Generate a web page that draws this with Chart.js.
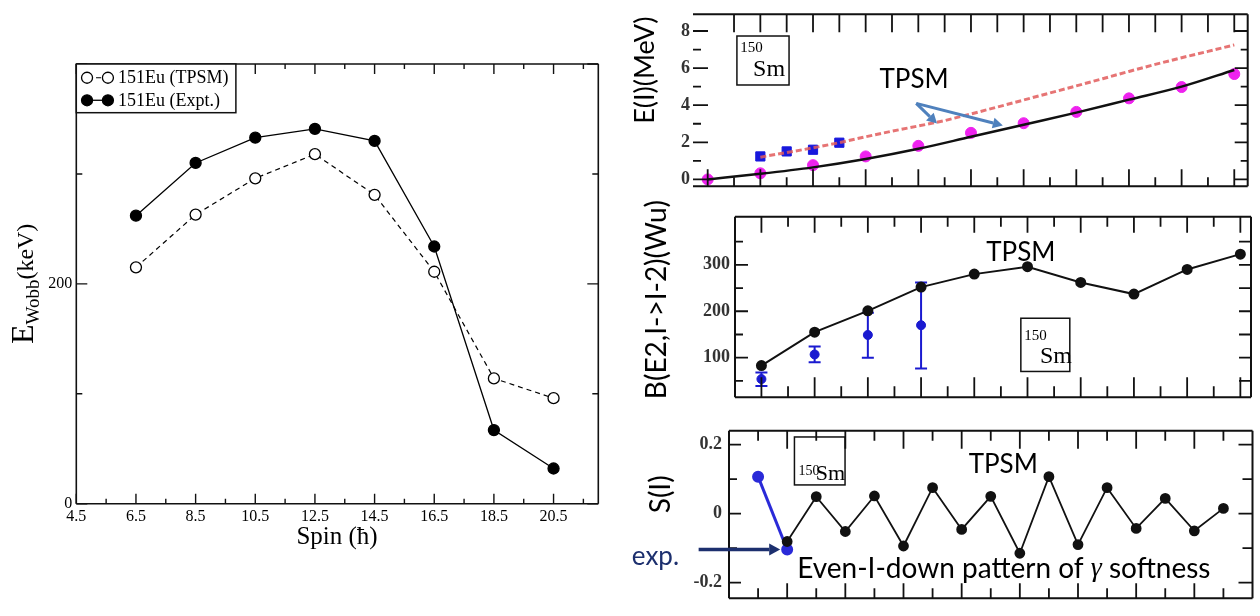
<!DOCTYPE html>
<html>
<head>
<meta charset="utf-8">
<script src="https://cdn.jsdelivr.net/npm/chart.js@4.4.1/dist/chart.umd.min.js"></script>
<style>
  html, body { margin: 0; padding: 0; background: #fff; }
  #wrap { position: relative; width: 1260px; height: 616px; overflow: hidden; }
  canvas { position: absolute; }
</style>
</head>
<body>
<div id="wrap">
  <canvas id="wobble" width="620" height="616" style="left:0;top:0"></canvas>
  <canvas id="energy" width="630" height="200" style="left:630px;top:0"></canvas>
  <canvas id="be2" width="630" height="213" style="left:630px;top:200px"></canvas>
  <canvas id="stagger" width="630" height="203" style="left:630px;top:413px"></canvas>
</div>
<script>
// ---- left panel: wobbling energy of 151Eu
const spin151 = [6.5, 8.5, 10.5, 12.5, 14.5, 16.5, 18.5, 20.5];
const wobbTPSM = [215, 263, 296, 318, 281, 211, 114, 96];
const wobbExpt = [262, 310, 333, 341, 330, 234, 67, 32];
const spinTicks = [4.5, 6.5, 8.5, 10.5, 12.5, 14.5, 16.5, 18.5, 20.5];
const spinMinor = [5.5, 7.5, 9.5, 11.5, 13.5, 15.5, 17.5, 19.5, 21.5];
const wobbTicks = [0, 200];
const wobbMajor = [0, 200, 400];
const wobbMinor = [100, 300];

// ---- 150Sm: yrast and gamma band energies (MeV)
const yrastSpin = [0, 2, 4, 6, 8, 10, 12, 14, 16, 18, 20];
const yrastExp = [0, 0.33, 0.77, 1.24, 1.81, 2.51, 3.03, 3.64, 4.37, 4.98, 5.68];
const yrastTPSM = [0, 0.3, 0.65, 1.1, 1.65, 2.3, 2.95, 3.6, 4.3, 5.0, 5.9];
const gammaSpinExp = [2, 3, 4, 5];
const gammaExp = [1.24, 1.51, 1.6, 1.98];
const gammaSpin = [2, 3, 4, 5, 6, 7, 8, 9, 10, 11, 12, 13, 14, 15, 16, 17, 18, 19, 20];
const gammaTPSM = [1.2, 1.45, 1.7, 1.98, 2.3, 2.6, 2.88, 3.17, 3.53, 3.9, 4.28, 4.66, 5.04, 5.43, 5.82, 6.2, 6.56, 6.9, 7.25];
const energyTicks = [0, 2, 4, 6, 8];
const energyMinor = [1, 3, 5, 7];
const evenSpin = [0, 2, 4, 6, 8, 10, 12, 14, 16, 18, 20];
const oddSpin = [1, 3, 5, 7, 9, 11, 13, 15, 17, 19];

// ---- 150Sm: B(E2, I->I-2) in W.u.
const be2Spin = [2, 4, 6, 8, 10, 12, 14, 16, 18, 20];
const be2TPSM = [83, 155, 201, 252, 280, 296, 262, 237, 290, 323];
const be2SpinExp = [2, 4, 6, 8];
const be2Exp = [54, 107, 149, 170];
const be2Lo = [39, 90, 100, 77];
const be2Hi = [68, 124, 197, 262];
const be2Ticks = [100, 200, 300];
const be2Minor = [50, 150, 250, 350];

// ---- 150Sm: staggering S(I)
const sSpin = [4, 5, 6, 7, 8, 9, 10, 11, 12, 13, 14, 15, 16, 17, 18, 19];
const sTPSM = [-0.081, 0.049, -0.052, 0.051, -0.094, 0.075, -0.046, 0.05, -0.115, 0.107, -0.09, 0.075, -0.043, 0.044, -0.05, 0.015];
const sSpinExp = [3, 4];
const sExp = [0.107, -0.104];
const sTicks = [-0.2, 0, 0.2];
const sMinor = [-0.1, 0.1];

const serif = '"Liberation Serif", "Times New Roman", serif';
const sans = 'Lato, "Liberation Sans", sans-serif';

const pts = (xs, ys) => xs.map((x, i) => ({ x: x, y: ys[i] }));
const part = (t, font, color, dy) => ({ t: t, font: font, color: color || '#000', dy: dy || 0 });

function drawArrow(ctx, x1, y1, x2, y2, color, w, head) {
  const ang = Math.atan2(y2 - y1, x2 - x1);
  const bx = x2 - head * Math.cos(ang), by = y2 - head * Math.sin(ang);
  ctx.strokeStyle = color; ctx.fillStyle = color; ctx.lineWidth = w;
  ctx.setLineDash([]);
  ctx.beginPath(); ctx.moveTo(x1, y1); ctx.lineTo(bx, by); ctx.stroke();
  ctx.beginPath();
  ctx.moveTo(x2, y2);
  ctx.lineTo(bx + head * 0.55 * Math.sin(ang), by - head * 0.55 * Math.cos(ang));
  ctx.lineTo(bx - head * 0.55 * Math.sin(ang), by + head * 0.55 * Math.cos(ang));
  ctx.closePath(); ctx.fill();
}

// frame, tick marks, labels, boxes and arrows for one panel
function decor(spec) {
  return {
    id: 'decor',
    beforeDatasetsDraw(chart) {
      const ctx = chart.ctx, sx = chart.scales.x, sy = chart.scales.y;
      ctx.save();
      (spec.errorBars || []).forEach(e => {
        ctx.strokeStyle = e.color; ctx.lineWidth = e.width;
        ctx.beginPath();
        e.x.forEach((xv, i) => {
          const x = sx.getPixelForValue(xv), y1 = sy.getPixelForValue(e.lo[i]), y2 = sy.getPixelForValue(e.hi[i]);
          ctx.moveTo(x, y1); ctx.lineTo(x, y2);
          ctx.moveTo(x - e.cap, y1); ctx.lineTo(x + e.cap, y1);
          ctx.moveTo(x - e.cap, y2); ctx.lineTo(x + e.cap, y2);
        });
        ctx.stroke();
      });
      ctx.restore();
    },
    afterDatasetsDraw(chart) {
      const ctx = chart.ctx, a = chart.chartArea;
      const sx = chart.scales.x, sy = chart.scales.y;
      const X = v => sx.getPixelForValue(v), Y = v => sy.getPixelForValue(v);
      ctx.save();
      ctx.strokeStyle = spec.ink || '#111';
      ctx.lineWidth = spec.frameWidth || 1.5;
      ctx.lineCap = 'butt';
      const sides = spec.sides || ['top', 'right', 'bottom', 'left'];
      ctx.beginPath();
      if (sides.includes('top')) { ctx.moveTo(a.left, a.top); ctx.lineTo(a.right, a.top); }
      if (sides.includes('right')) { ctx.moveTo(a.right, a.top); ctx.lineTo(a.right, a.bottom); }
      if (sides.includes('bottom')) { ctx.moveTo(a.left, a.bottom); ctx.lineTo(a.right, a.bottom); }
      if (sides.includes('left')) { ctx.moveTo(a.left, a.top); ctx.lineTo(a.left, a.bottom); }
      ctx.stroke();

      ctx.lineWidth = spec.tickWidth || 1.5;
      (spec.ticks || []).forEach(g => {
        ctx.beginPath();
        g.values.forEach(v => {
          if (g.at === 'bottom') { const p = X(v); ctx.moveTo(p, a.bottom); ctx.lineTo(p, a.bottom - g.len); }
          if (g.at === 'top') { const p = X(v); ctx.moveTo(p, a.top); ctx.lineTo(p, a.top + g.len); }
          if (g.at === 'left') { const p = Y(v); ctx.moveTo(a.left, p); ctx.lineTo(a.left + g.len, p); }
          if (g.at === 'right') { const p = Y(v); ctx.moveTo(a.right, p); ctx.lineTo(a.right - g.len, p); }
        });
        ctx.stroke();
      });

      (spec.boxes || []).forEach(b => {
        ctx.lineWidth = 1.5; ctx.strokeStyle = '#111';
        ctx.strokeRect(X(b[0]), Y(b[1]), X(b[2]) - X(b[0]), Y(b[3]) - Y(b[1]));
      });

      (spec.arrows || []).forEach(r => {
        drawArrow(ctx, X(r.x1), Y(r.y1), X(r.x2), Y(r.y2), r.color, r.width, r.head);
      });

      if (spec.legend) {
        const L = spec.legend;
        const x1 = X(L.box[0]), y1 = Y(L.box[1]), x2 = X(L.box[2]), y2 = Y(L.box[3]);
        ctx.fillStyle = '#fff'; ctx.fillRect(x1, y1, x2 - x1, y2 - y1);
        ctx.lineWidth = 1.5; ctx.strokeStyle = '#111'; ctx.setLineDash([]);
        ctx.strokeRect(x1, y1, x2 - x1, y2 - y1);
        L.rows.forEach(row => {
          const ds = chart.data.datasets[row.ds];
          const y = Y(row.y), m1 = X(row.m1), m2 = X(row.m2), r = ds.pointRadius;
          ctx.strokeStyle = '#000'; ctx.lineWidth = ds.borderWidth;
          ctx.setLineDash(ds.borderDash || []);
          ctx.beginPath(); ctx.moveTo(m1, y); ctx.lineTo(m2, y); ctx.stroke();
          ctx.setLineDash([]);
          [m1, m2].forEach(m => {
            ctx.beginPath(); ctx.arc(m, y, r, 0, Math.PI * 2);
            ctx.fillStyle = ds.pointBackgroundColor; ctx.fill();
            ctx.lineWidth = ds.pointBorderWidth; ctx.stroke();
          });
          ctx.fillStyle = '#000'; ctx.font = L.font;
          ctx.textAlign = 'left'; ctx.textBaseline = 'middle';
          ctx.fillText(ds.label, X(row.tx), y + 1);
        });
      }

      (spec.texts || []).forEach(tx => {
        ctx.save();
        ctx.translate(X(tx.x), Y(tx.y));
        if (tx.rotate) ctx.rotate(tx.rotate * Math.PI / 180);
        ctx.textBaseline = tx.baseline || 'middle';
        ctx.textAlign = 'left';
        let total = 0;
        tx.parts.forEach(p => { ctx.font = p.font; total += ctx.measureText(p.t).width; });
        let cx = tx.align === 'left' ? 0 : -total / 2;
        tx.parts.forEach(p => {
          ctx.font = p.font; ctx.fillStyle = p.color;
          ctx.fillText(p.t, cx, p.dy);
          cx += ctx.measureText(p.t).width;
        });
        ctx.restore();
      });
      ctx.restore();
    }
  };
}

function linear(min, max, extra) {
  return Object.assign({
    type: 'linear', min: min, max: max,
    grid: { display: false, drawTicks: false },
    border: { display: false }
  }, extra);
}

function fixedTicks(values) {
  return s => { s.ticks = values.map(v => ({ value: v })); };
}

const baseOptions = (layout, scales) => ({
  responsive: false,
  animation: false,
  layout: { padding: layout },
  plugins: { legend: { display: false }, tooltip: { enabled: false } },
  scales: scales
});

// ---------------- left chart
new Chart(document.getElementById('wobble'), {
  type: 'line',
  data: {
    datasets: [
      {
        label: '151Eu (TPSM)', data: pts(spin151, wobbTPSM),
        borderColor: '#000', borderWidth: 1.2, borderDash: [5, 4],
        pointRadius: 5.5, pointBackgroundColor: '#fff', pointBorderColor: '#000', pointBorderWidth: 1.3,
        clip: false
      },
      {
        label: '151Eu (Expt.)', data: pts(spin151, wobbExpt),
        borderColor: '#000', borderWidth: 1.3,
        pointRadius: 5.5, pointBackgroundColor: '#000', pointBorderColor: '#000', pointBorderWidth: 1.3,
        clip: false
      }
    ]
  },
  options: baseOptions({ left: 0, top: 64, right: 21.7, bottom: 0 }, {
    x: linear(4.5, 22, {
      afterBuildTicks: fixedTicks(spinTicks),
      afterFit: s => { s.height = 112.3; },
      ticks: { font: { family: serif, size: 16 }, color: '#000', padding: 3, autoSkip: false, maxRotation: 0 }
    }),
    y: linear(0, 400, {
      afterBuildTicks: fixedTicks(wobbTicks),
      afterFit: s => { s.width = 76.3; },
      ticks: { font: { family: serif, size: 16 }, color: '#000', padding: 4 }
    })
  }),
  plugins: [decor({
    frameWidth: 1.6, tickWidth: 1.4,
    ticks: [
      { at: 'bottom', values: spinTicks, len: 10 }, { at: 'bottom', values: spinMinor, len: 5 },
      { at: 'top', values: spinTicks, len: 10 }, { at: 'top', values: spinMinor, len: 5 },
      { at: 'left', values: wobbMajor, len: 11 }, { at: 'left', values: wobbMinor, len: 6 },
      { at: 'right', values: wobbMajor, len: 11 }, { at: 'right', values: wobbMinor, len: 6 }
    ],
    legend: {
      box: [4.5, 400, 9.85, 355.7], font: '18px ' + serif,
      rows: [{ ds: 0, y: 387.5, m1: 4.86, m2: 5.56, tx: 5.9 }, { ds: 1, y: 367, m1: 4.86, m2: 5.56, tx: 5.9 }]
    },
    texts: [
      { x: 13.24, y: -30.7, parts: [part('Spin (\u0127)', '25px ' + serif)] },
      {
        x: 3.05, y: 200, rotate: -90, baseline: 'alphabetic',
        parts: [part('E', '32px ' + serif), part('Wobb', '19px ' + serif, '#000', 6), part('(keV)', '24px ' + serif)]
      }
    ]
  })]
});

// ---------------- top right: E(I)
new Chart(document.getElementById('energy'), {
  type: 'line',
  data: {
    datasets: [
      {
        label: 'TPSM yrast', data: pts(yrastSpin, yrastTPSM),
        borderColor: '#111', borderWidth: 2.5, pointRadius: 0, cubicInterpolationMode: 'monotone', clip: false
      },
      {
        label: 'TPSM gamma', data: pts(gammaSpin, gammaTPSM),
        borderColor: 'rgba(226, 92, 92, 0.85)', borderWidth: 3, borderDash: [6, 3], pointRadius: 0, clip: false
      },
      {
        label: 'Expt yrast', data: pts(yrastSpin, yrastExp), showLine: false,
        pointRadius: 5.5, pointBackgroundColor: '#ee22ee', pointBorderColor: '#ee22ee', clip: false
      },
      {
        label: 'Expt gamma', data: pts(gammaSpinExp, gammaExp), showLine: false, pointStyle: 'rect',
        pointRadius: 6.5, pointBackgroundColor: '#1818dd', pointBorderColor: '#1818dd', clip: false
      }
    ]
  },
  options: baseOptions({ left: 0, top: 14.3, right: 12.3, bottom: 8.3 }, {
    x: linear(-0.558, 20.51, { display: false }),
    y: linear(-0.365, 8.9, {
      afterBuildTicks: fixedTicks(energyTicks),
      afterFit: s => { s.width = 63; },
      ticks: { font: { family: serif, size: 18, weight: 'bold' }, color: '#333', padding: 3 }
    })
  }),
  plugins: [decor({
    frameWidth: 2, tickWidth: 1.8, sides: ['top', 'right', 'bottom'],
    ticks: [
      { at: 'bottom', values: evenSpin, len: 17 }, { at: 'bottom', values: oddSpin, len: 9 },
      { at: 'top', values: evenSpin.slice(1), len: 18 }, { at: 'top', values: oddSpin, len: 18 },
      { at: 'left', values: energyTicks, len: 15 }, { at: 'left', values: energyMinor, len: 8 },
      { at: 'right', values: energyTicks, len: 13 }, { at: 'right', values: energyMinor, len: 7 }
    ],
    boxes: [[1.11, 7.73, 3.09, 5.09]],
    arrows: [
      { x1: 7.92, y1: 4.1, x2: 8.71, y2: 3.01, color: '#4f81bd', width: 3, head: 10 },
      { x1: 7.92, y1: 4.1, x2: 11.21, y2: 2.91, color: '#4f81bd', width: 3, head: 10 }
    ],
    texts: [
      { x: 1.66, y: 7.08, parts: [part('150', '15px ' + serif)] },
      { x: 2.33, y: 5.94, parts: [part('Sm', '24px ' + serif)] },
      { x: 7.84, y: 5.38, parts: [part('TPSM', '26px ' + sans)] },
      { x: -2.38, y: 5.89, rotate: -90, parts: [part('E(I)(MeV)', '27px ' + sans)] }
    ]
  })]
});

// ---------------- middle right: B(E2)
new Chart(document.getElementById('be2'), {
  type: 'line',
  data: {
    datasets: [
      {
        label: 'TPSM', data: pts(be2Spin, be2TPSM),
        borderColor: '#111', borderWidth: 2, pointRadius: 4.5,
        pointBackgroundColor: '#111', pointBorderColor: '#111', clip: false
      },
      {
        label: 'Expt', data: pts(be2SpinExp, be2Exp), showLine: false,
        pointRadius: 4.5, pointBackgroundColor: '#1a1ad0', pointBorderColor: '#1a1ad0', clip: false
      }
    ]
  },
  options: baseOptions({ left: 0, top: 16.7, right: 9, bottom: 2 }, {
    x: linear(1.007, 20.4, { display: false }),
    y: linear(15, 403.6, {
      afterBuildTicks: fixedTicks(be2Ticks),
      afterFit: s => { s.width = 105; },
      ticks: { font: { family: serif, size: 18, weight: 'bold' }, color: '#333', padding: 5 }
    })
  }),
  plugins: [decor({
    frameWidth: 2, tickWidth: 1.8,
    errorBars: [{ x: be2SpinExp, lo: be2Lo, hi: be2Hi, color: '#1a1ad0', width: 2, cap: 6 }],
    ticks: [
      { at: 'bottom', values: evenSpin.slice(1), len: 20 }, { at: 'bottom', values: oddSpin.slice(1), len: 11 },
      { at: 'top', values: evenSpin.slice(1), len: 16 }, { at: 'top', values: oddSpin.slice(1), len: 10 },
      { at: 'left', values: be2Ticks, len: 13 }, { at: 'left', values: be2Minor, len: 8 },
      { at: 'right', values: be2Ticks, len: 12 }, { at: 'right', values: be2Minor, len: 12 }
    ],
    boxes: [[11.75, 185, 13.59, 70.4]],
    texts: [
      { x: 12.3, y: 147, parts: [part('150', '15px ' + serif)] },
      { x: 13.07, y: 103, parts: [part('Sm', '24px ' + serif)] },
      { x: 11.75, y: 327, parts: [part('TPSM', '26px ' + sans)] },
      { x: -1.92, y: 225, rotate: -90, parts: [part('B(E2,I->I-2)(Wu)', '28px ' + sans)] }
    ]
  })]
});

// ---------------- bottom right: S(I)
new Chart(document.getElementById('stagger'), {
  type: 'line',
  data: {
    datasets: [
      {
        label: 'TPSM', data: pts(sSpin, sTPSM),
        borderColor: '#111', borderWidth: 1.8, pointRadius: 4.5,
        pointBackgroundColor: '#111', pointBorderColor: '#111', clip: false
      },
      {
        label: 'Expt', data: pts(sSpinExp, sExp),
        borderColor: '#2a2ad8', borderWidth: 3, pointRadius: 4.5,
        pointBackgroundColor: '#2a2ad8', pointBorderColor: '#2a2ad8', clip: false
      }
    ]
  },
  options: baseOptions({ left: 0, top: 14.7, right: 5, bottom: 8.3 }, {
    x: linear(2, 20, { display: false }),
    y: linear(-0.2453, 0.2399, {
      afterBuildTicks: fixedTicks(sTicks),
      afterFit: s => { s.width = 99; },
      ticks: { font: { family: serif, size: 18, weight: 'bold' }, color: '#333', padding: 7 }
    })
  }),
  plugins: [decor({
    frameWidth: 2, tickWidth: 1.8,
    ticks: [
      { at: 'bottom', values: evenSpin.slice(2, 10), len: 15 }, { at: 'bottom', values: oddSpin.slice(1), len: 10 },
      { at: 'top', values: evenSpin.slice(2, 10), len: 18 }, { at: 'top', values: oddSpin.slice(1), len: 10 },
      { at: 'left', values: sTicks, len: 12 }, { at: 'left', values: sMinor, len: 8 },
      { at: 'right', values: sTicks, len: 14 }, { at: 'right', values: sMinor, len: 10 }
    ],
    boxes: [[4.25, 0.222, 5.99, 0.083]],
    arrows: [{ x1: 0.956, y1: -0.104, x2: 3.76, y2: -0.104, color: '#1c2f6e', width: 3.5, head: 11 }],
    texts: [
      { x: 4.755, y: 0.123, parts: [part('150', '14px ' + serif)] },
      { x: 5.49, y: 0.114, parts: [part('Sm', '22px ' + serif)] },
      { x: 11.43, y: 0.142, parts: [part('TPSM', '26px ' + sans)] },
      {
        x: 4.345, y: -0.16, align: 'left',
        parts: [part('Even-I-down pattern of ', '28px ' + sans), part('\u03b3', 'italic 28px ' + serif), part(' softness', '28px ' + sans)]
      },
      { x: -1.34, y: -0.125, align: 'left', parts: [part('exp.', '26px ' + sans, '#1c2f6e')] },
      { x: -0.345, y: 0.0558, rotate: -90, parts: [part('S(I)', '28px ' + sans)] }
    ]
  })]
});
</script>
</body>
</html>
